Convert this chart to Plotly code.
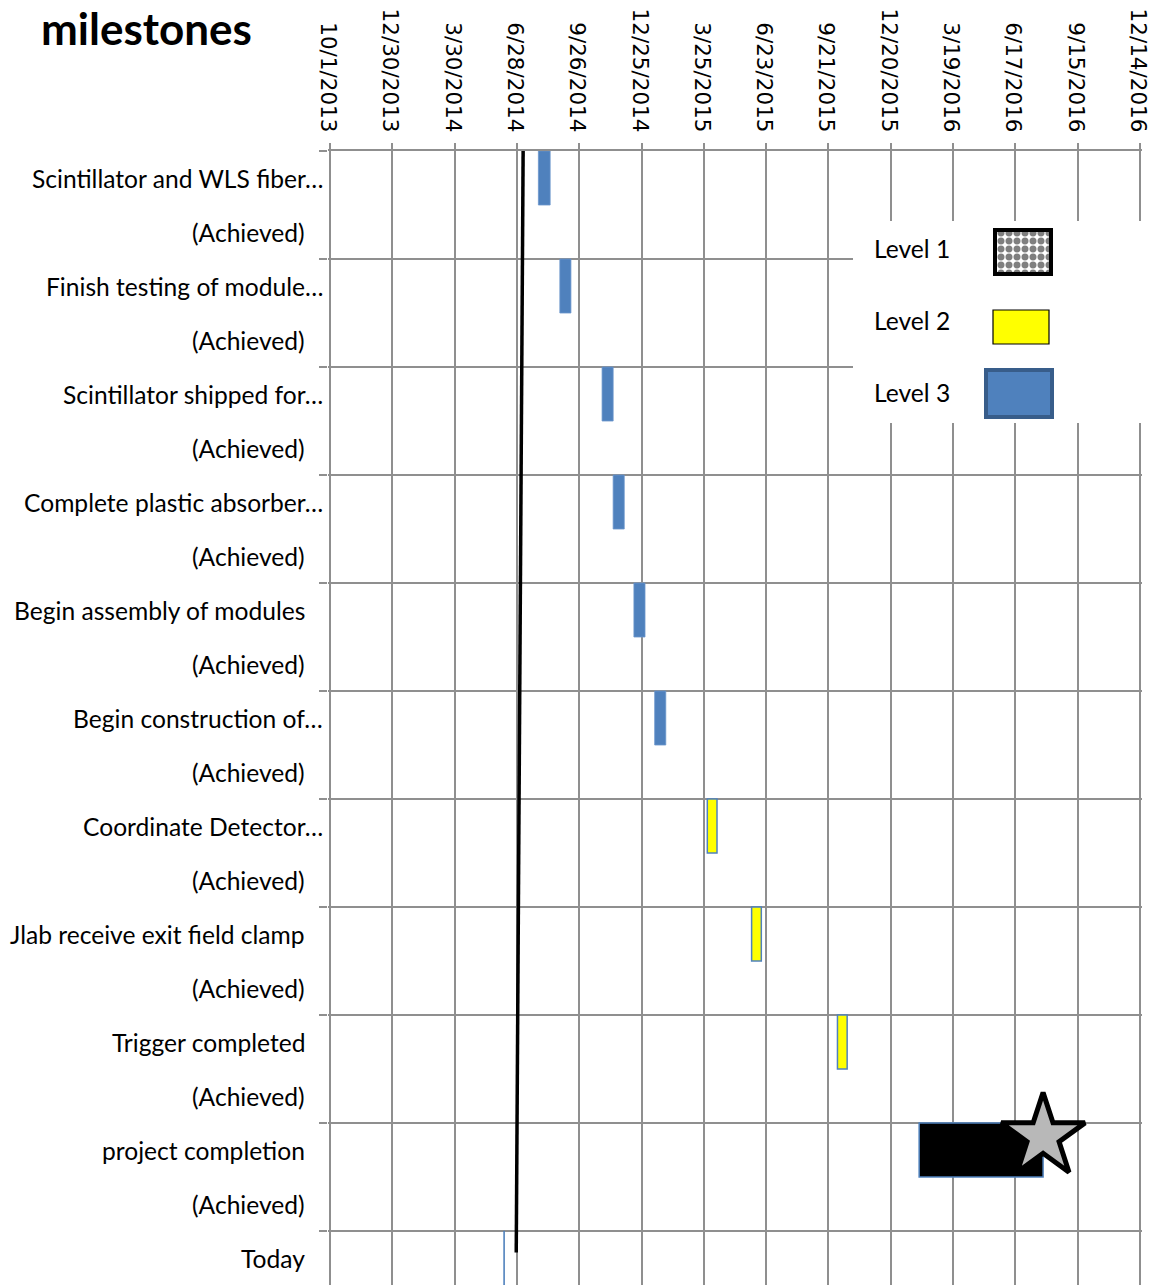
import pandas as pd
import plotly.graph_objects as go

# ---------------- data ----------------
milestones = [
    "Scintillator and WLS fiber…",
    "Finish testing of module…",
    "Scintillator shipped for…",
    "Complete plastic absorber…",
    "Begin assembly of modules",
    "Begin construction of…",
    "Coordinate Detector…",
    "Jlab receive exit field clamp",
    "Trigger completed",
    "project completion",
]
status_label = "(Achieved)"
levels = [3, 3, 3, 3, 3, 3, 2, 2, 2, 1]
start_dates = [
    "2014-07-29", "2014-08-29", "2014-10-29", "2014-11-14", "2014-12-14",
    "2015-01-13", "2015-03-30", "2015-06-02", "2015-10-04", "2016-01-30",
]
duration_days = [17, 16, 16, 16, 16, 16, 14, 14, 14, 179]

today_label = "Today"
today_date = "2014-06-09"
today_duration_days = 1
today_line_dates = ["2014-07-07", "2014-06-27"]

tick_labels = [
    "10/1/2013", "12/30/2013", "3/30/2014", "6/28/2014", "9/26/2014",
    "12/25/2014", "3/25/2015", "6/23/2015", "9/21/2015", "12/20/2015",
    "3/19/2016", "6/17/2016", "9/15/2016", "12/14/2016",
]
legend_labels = ["Level 1", "Level 2", "Level 3"]

# ---------------- layout constants (page pixels) ----------------
OFF = 0                      # body margin removed by post_script below
PAGE_W, PAGE_H = 1150, 1285
W, H = PAGE_W - OFF, PAGE_H - OFF
TICK_FIRST_PX, TICK_LAST_PX = 330, 1140   # page x of first / last tick
PLOT_L_PX, PLOT_R_PX = 328, 1142          # page x of plot area edges
PLOT_T_PX, PLOT_B_PX = 151, 1285
ML, MR = PLOT_L_PX - OFF, W - (PLOT_R_PX - OFF)
MT, MB = PLOT_T_PX - OFF, H - (PLOT_B_PX - OFF)
PW, PH = W - ML - MR, H - MT - MB

GRID = "#8f8f8f"
BLUE = "#4F81BD"
LABEL_FONT = dict(family="Lato, Calibri, sans-serif", size=24.6, color="black")

DAY_MS = 24 * 3600 * 1000
n_rows = 2 * len(milestones) + 1
tickvals = [pd.to_datetime(t, format="%m/%d/%Y") for t in tick_labels]
px_per_day = (TICK_LAST_PX - TICK_FIRST_PX) / ((tickvals[-1] - tickvals[0]).days)
x_range = [
    tickvals[0] - pd.Timedelta(days=(TICK_FIRST_PX - PLOT_L_PX) / px_per_day),
    tickvals[-1] + pd.Timedelta(days=(PLOT_R_PX - TICK_LAST_PX) / px_per_day),
]


def px_to_paper_x(page_x):
    return (page_x - PLOT_L_PX) / PW


def px_to_paper_y(page_y):
    return 1 - (page_y - PLOT_T_PX) / PH


fig = go.Figure()

# milestone bars (one trace per level)
style = {
    3: dict(color=BLUE, line=dict(color="#6a95cb", width=0.8)),
    2: dict(color="#FFFF00", line=dict(color=BLUE, width=1.5)),
    1: dict(color="black", line=dict(color=BLUE, width=1.5)),
}
for lv in (3, 2, 1):
    idx = [i for i, l in enumerate(levels) if l == lv]
    fig.add_trace(go.Bar(
        orientation="h",
        y=[2 * i for i in idx],
        base=[start_dates[i] for i in idx],
        x=[duration_days[i] * DAY_MS for i in idx],
        width=1,
        marker=style[lv],
        showlegend=False, hoverinfo="skip",
    ))

# star at end of level-1 milestone
l1 = [i for i, l in enumerate(levels) if l == 1]
end_dates = [(pd.Timestamp(start_dates[i]) + pd.Timedelta(days=duration_days[i])).strftime("%Y-%m-%d") for i in l1]
fig.add_trace(go.Scatter(
    x=end_dates, y=[2 * i - 0.25 for i in l1],
    mode="markers",
    marker=dict(symbol="star", size=63, color="#b8b8b8", line=dict(color="black", width=5)),
    cliponaxis=False, showlegend=False, hoverinfo="skip",
))

# today bar
fig.add_trace(go.Bar(
    orientation="h", y=[n_rows - 1], base=[today_date], x=[today_duration_days * DAY_MS],
    width=1, marker=dict(color=BLUE, line=dict(color=BLUE, width=0.8)),
    showlegend=False, hoverinfo="skip",
))

# today line
fig.add_trace(go.Scatter(
    x=today_line_dates, y=[-0.57, n_rows - 1.1],
    mode="lines", line=dict(color="black", width=3.5),
    cliponaxis=False, showlegend=False, hoverinfo="skip",
))

# ---------------- legend inset ----------------
ins_x0, ins_x1 = 853, PLOT_R_PX
ins_y0, ins_y1 = 221, 423
iw, ih = ins_x1 - ins_x0, ins_y1 - ins_y0
swatches = [  # (x0, x1, yc, h) in inset pixels
    (142, 198, 31, 44),
    (140, 196, 106, 34),
    (133, 199, 172.5, 47),
]
legend_text_y = [27, 99, 171]
sw_styles = [
    dict(color="white", line=dict(color="black", width=4),
         pattern=dict(shape=".", fgcolor="black", bgcolor="white", size=8, solidity=0.6, fillmode="overlay")),
    dict(color="#FFFF00", line=dict(color="black", width=1.2)),
    dict(color=BLUE, line=dict(color="#385d8a", width=4)),
]
for (sx0, sx1, yc, hh), st in zip(swatches, sw_styles):
    fig.add_trace(go.Bar(
        orientation="h", y=[yc], base=[sx0], x=[sx1 - sx0], width=hh,
        marker=st, xaxis="x2", yaxis="y2", showlegend=False, hoverinfo="skip",
    ))
for lab, ty in zip(legend_labels, legend_text_y):
    fig.add_annotation(x=19, y=ty, xref="x2", yref="y2", text=lab, showarrow=False,
                       xanchor="left", yanchor="middle", font=LABEL_FONT)

# ---------------- row labels ----------------
for i, name in enumerate(milestones):
    xr = 325 if name.endswith("…") else 307
    fig.add_annotation(x=px_to_paper_x(xr), xref="paper", y=2 * i, yref="y", text=name,
                       showarrow=False, xanchor="right", yanchor="middle", font=LABEL_FONT)
    fig.add_annotation(x=px_to_paper_x(307), xref="paper", y=2 * i + 1, yref="y", text=status_label,
                       showarrow=False, xanchor="right", yanchor="middle", font=LABEL_FONT)
fig.add_annotation(x=px_to_paper_x(307), xref="paper", y=n_rows - 1, yref="y", text=today_label,
                   showarrow=False, xanchor="right", yanchor="middle", font=LABEL_FONT)

# title
fig.add_annotation(x=px_to_paper_x(39), xref="paper", xanchor="left",
                   y=px_to_paper_y(0), yref="paper", yanchor="top",
                   text="<b>milestones</b>", showarrow=False,
                   font=dict(family="Lato, Calibri, sans-serif", size=44, color="black"))

fig.update_layout(
    width=W, height=H,
    margin=dict(l=ML, r=MR, t=MT, b=MB, pad=0, autoexpand=False),
    paper_bgcolor="white", plot_bgcolor="white",
    barmode="overlay",
    xaxis=dict(
        type="date", side="top", range=x_range,
        tickmode="array", tickvals=tickvals, ticktext=tick_labels,
        tickangle=90, tickfont=dict(family="DejaVu Sans", size=21.5, color="black"),
        ticks="outside", ticklen=6, tickcolor=GRID, tickwidth=2,
        ticklabelstandoff=3, ticklabelshift=-2,
        ticklabeloverflow="allow",
        showgrid=True, gridcolor=GRID, gridwidth=2,
        showline=True, linecolor=GRID, linewidth=2,
        zeroline=False, fixedrange=True,
    ),
    yaxis=dict(
        range=[n_rows - 0.5, -0.5],
        tickmode="array", tickvals=[k - 0.5 for k in range(0, n_rows, 2)],
        showticklabels=False,
        ticks="outside", ticklen=8, tickcolor=GRID, tickwidth=2,
        showgrid=True, gridcolor=GRID, gridwidth=2,
        zeroline=False, showline=False, fixedrange=True,
    ),
    xaxis2=dict(domain=[px_to_paper_x(ins_x0), px_to_paper_x(ins_x1)], range=[0, iw], anchor="y2",
                visible=False, fixedrange=True),
    yaxis2=dict(domain=[px_to_paper_y(ins_y1), px_to_paper_y(ins_y0)], range=[ih, 0], anchor="x2",
                visible=False, fixedrange=True),
)

fig.write_html(
    "out.html",
    config={"displayModeBar": False},
    post_script="document.body.style.margin='0';document.documentElement.style.overflow='hidden';",
)
